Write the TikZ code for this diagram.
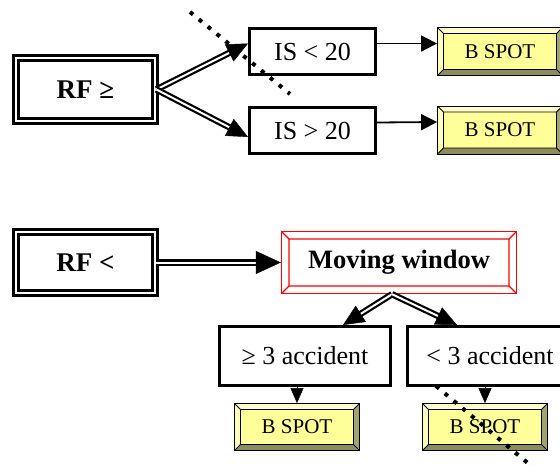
\documentclass[tikz,border=0pt]{standalone}
\usepackage{fontspec}
\setmainfont{Liberation Serif}
\usetikzlibrary{arrows.meta,calc}

\definecolor{spotfill}{HTML}{FFFF99}
\definecolor{spottop}{HTML}{FFFFCC}
\definecolor{spotleft}{HTML}{FFFFBB}
\definecolor{spotright}{HTML}{A3A36E}
\definecolor{spotbottom}{HTML}{8C8C5C}

\tikzset{
  % plain decision box with a heavy outline
  cbox/.style={rectangle, draw=black, line width=3pt, fill=white, inner sep=0pt,
    font=\fontsize{26}{28}\selectfont},
  % double-framed root box
  rootbox/.style={rectangle, draw=black, double=white, line width=2.8pt,
    double distance=2.4pt, inner sep=0pt, font=\bfseries\fontsize{27}{29}\selectfont},
  % yellow bevelled result button
  bspot/.style={rectangle, draw=black, line width=0.8pt, fill=spotfill, inner sep=0pt,
    minimum width=125pt, font=\fontsize{21}{23}\selectfont,
    path picture={
      \coordinate (pNW) at (path picture bounding box.north west);
      \coordinate (pNE) at (path picture bounding box.north east);
      \coordinate (pSW) at (path picture bounding box.south west);
      \coordinate (pSE) at (path picture bounding box.south east);
      \coordinate (qNW) at ([shift={(6pt,-6pt)}]pNW);
      \coordinate (qNE) at ([shift={(-6pt,-6pt)}]pNE);
      \coordinate (qSW) at ([shift={(6pt,6pt)}]pSW);
      \coordinate (qSE) at ([shift={(-6pt,6pt)}]pSE);
      \fill[spottop] (pNW) -- (pNE) -- (qNE) -- (qNW) -- cycle;
      \fill[spotleft] (pNW) -- (qNW) -- (qSW) -- (pSW) -- cycle;
      \fill[spotright] (pNE) -- (pSE) -- (qSE) -- (qNE) -- cycle;
      \fill[spotbottom] (pSW) -- (pSE) -- (qSE) -- (qSW) -- cycle;
      \draw[line width=0.8pt] (qNW) rectangle (qSE)
        (pNW) -- (qNW) (pNE) -- (qNE) (pSW) -- (qSW) (pSE) -- (qSE);
    }},
  % red bevelled frame
  redbox/.style={rectangle, draw=red, line width=1.4pt, fill=white, inner sep=0pt,
    font=\bfseries\fontsize{26.5}{28}\selectfont,
    path picture={
      \coordinate (pNW) at (path picture bounding box.north west);
      \coordinate (pNE) at (path picture bounding box.north east);
      \coordinate (pSW) at (path picture bounding box.south west);
      \coordinate (pSE) at (path picture bounding box.south east);
      \coordinate (qNW) at ([shift={(7.5pt,-7.5pt)}]pNW);
      \coordinate (qNE) at ([shift={(-7.5pt,-7.5pt)}]pNE);
      \coordinate (qSW) at ([shift={(7.5pt,7.5pt)}]pSW);
      \coordinate (qSE) at ([shift={(-7.5pt,7.5pt)}]pSE);
      \draw[red, line width=1.4pt] (qNW) rectangle (qSE)
        (pNW) -- (qNW) (pNE) -- (qNE) (pSW) -- (qSW) (pSE) -- (qSE);
    }},
  % double shaft of the branching arrows
  dblshaft/.style={draw=black, double=white, line width=2.2pt, double distance=2pt},
  bigtip/.style={draw=black, line width=0.4pt, -{Triangle[length=21pt,width=19pt]}},
  hugetip/.style={draw=black, line width=0.4pt, -{Triangle[length=25pt,width=23pt]}},
  thinarrow/.style={draw=black, line width=1.8pt, -{Triangle[length=16pt,width=16pt]}},
  droptip/.style={draw=black, line width=0.4pt, -{Triangle[length=15pt,width=13pt]}},
  cutline/.style={draw=black, line width=4pt, dash pattern=on 4pt off 7.5pt}
}

\begin{document}
\begin{tikzpicture}[x=1pt,y=-1pt]
\useasboundingbox (0,0) rectangle (560,466);

% upper branch
\node[rootbox, minimum width=139pt, minimum height=63pt] (rf1) at (85.5,89.5) {RF ≥};
\node[cbox, minimum width=126pt, minimum height=46pt] (is1) at (312.5,51.5) {IS < 20};
\node[cbox, minimum width=126pt, minimum height=46pt] (is2) at (312.5,130.5) {IS > 20};
\node[bspot, minimum height=48pt] (bs1) at (500,51.5) {B SPOT};
\node[bspot, minimum height=48pt] (bs2) at (500,130) {B SPOT};

% lower branch
\node[rootbox, minimum width=139pt, minimum height=61pt] (rf2) at (85.5,262.5) {RF <};
\node[redbox, minimum width=235pt, minimum height=62pt] (mw) at (399,262.5) {Moving window};
\node[cbox, minimum width=171pt, minimum height=59pt] (acc1) at (305,356) {≥ 3 accident};
\node[cbox, minimum width=165pt, minimum height=59pt] (acc2) at (490,356) {< 3 accident};
\node[bspot, minimum height=47pt] (bs3) at (297,427) {B SPOT};
\node[bspot, minimum height=47pt] (bs4) at (485,427) {B SPOT};

% connection points
\coordinate (t1) at ([yshift=8pt]is1.west);
\coordinate (t2) at ([yshift=-6.5pt]is2.west);
\coordinate (apex) at ([xshift=-7pt]mw.south);
\coordinate (t3) at ([xshift=38pt]acc1.north);
\coordinate (t4) at ([xshift=-33pt]acc2.north);

% double arrows
\draw[dblshaft, shorten >=17pt] (rf1.east) -- (t1);
\draw[bigtip] ($(t1)!20.5pt!(rf1.east)$) -- (t1);
\draw[dblshaft, shorten >=17pt] (rf1.east) -- (t2);
\draw[bigtip] ($(t2)!20.5pt!(rf1.east)$) -- (t2);

\draw[dblshaft, shorten >=21pt] (rf2.east) -- (mw.west);
\draw[hugetip] ($(mw.west)!24.5pt!(rf2.east)$) -- (mw.west);

\draw[dblshaft, shorten >=17pt] (apex) -- (t3);
\draw[bigtip] ($(t3)!20.5pt!(apex)$) -- (t3);
\draw[dblshaft, shorten >=17pt] (apex) -- (t4);
\draw[bigtip] ($(t4)!20.5pt!(apex)$) -- (t4);

% single arrows
\draw[thinarrow] ([yshift=8pt]is1.east) -- ([yshift=8pt]bs1.west);
\draw[thinarrow] ([yshift=8pt]is2.east) -- ([yshift=8pt]bs2.west);
\draw[droptip] (bs3.north |- acc1.south) -- (bs3.north);
\draw[droptip] (bs4.north |- acc2.south) -- (bs4.north);

% dotted cut lines
\coordinate (c1a) at (190,12);
\coordinate (c1b) at (290,94);
\coordinate (c2a) at (436,386);
\coordinate (c2b) at (536,470);
\draw[cutline] (c1a) -- (c1b);
\draw[cutline] (c2a) -- (c2b);
\end{tikzpicture}
\end{document}
